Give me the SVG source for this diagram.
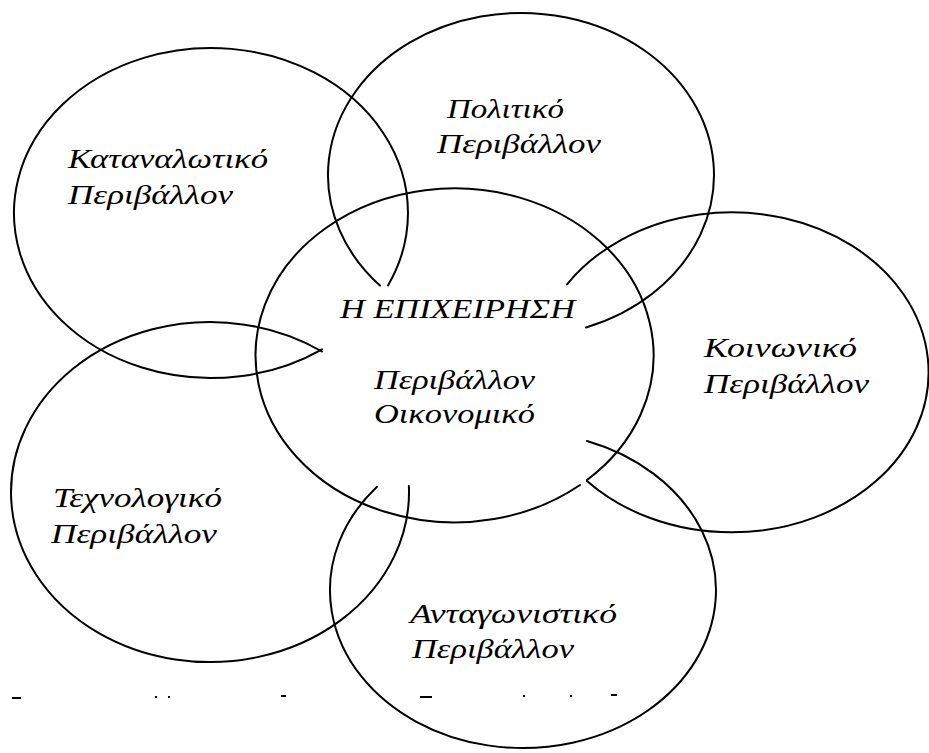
<svg xmlns="http://www.w3.org/2000/svg" width="929" height="753" viewBox="0 0 929 753">
<style>
.c{fill:none;stroke:#000;stroke-width:2;stroke-linecap:round}
.t{font-family:"Liberation Serif","DejaVu Serif",serif;font-style:italic;font-size:27px;fill:#000}
.m{stroke:#000;stroke-width:2}
</style>
<rect width="929" height="753" fill="#fff"/>
<g id="node-katanalotiko">
<path class="c" d="M 322 349.3 A 197 165 0 1 1 388 285.4"/>
<text class="t" x="68" y="168" textLength="200" lengthAdjust="spacingAndGlyphs">Καταναλωτικό</text>
<text class="t" x="68" y="204" textLength="165" lengthAdjust="spacingAndGlyphs">Περιβάλλον</text>
</g>
<g id="node-politiko">
<path class="c" d="M 380 285.6 A 193 162 0 1 1 586 327.5"/>
<text class="t" x="447" y="118" textLength="117" lengthAdjust="spacingAndGlyphs">Πολιτικό</text>
<text class="t" x="437" y="153" textLength="164" lengthAdjust="spacingAndGlyphs">Περιβάλλον</text>
</g>
<g id="node-epixeirisi">
<path class="c" d="M 580 485 A 199 167 0 1 1 587 480"/>
<text class="t" x="340" y="318" textLength="235" lengthAdjust="spacingAndGlyphs">Η ΕΠΙΧΕΙΡΗΣΗ</text>
<text class="t" x="374" y="389" textLength="161" lengthAdjust="spacingAndGlyphs">Περιβάλλον</text>
<text class="t" x="374" y="423" textLength="161" lengthAdjust="spacingAndGlyphs">Οικονομικό</text>
</g>
<g id="node-koinoniko">
<path class="c" d="M 567 284.4 A 197 160 0 1 1 587 481"/>
<text class="t" x="704" y="357" textLength="153" lengthAdjust="spacingAndGlyphs">Κοινωνικό</text>
<text class="t" x="704" y="393" textLength="165" lengthAdjust="spacingAndGlyphs">Περιβάλλον</text>
</g>
<g id="node-technologiko">
<path class="c" d="M 408.9 486 A 199 170 0 1 1 322 351.5"/>
<text class="t" x="53" y="507" textLength="169" lengthAdjust="spacingAndGlyphs">Τεχνολογικό</text>
<text class="t" x="51" y="543" textLength="166" lengthAdjust="spacingAndGlyphs">Περιβάλλον</text>
</g>
<g id="node-antagonistiko">
<path class="c" d="M 587 441 A 193 158 0 1 1 377 486.7"/>
<text class="t" x="410" y="623" textLength="207" lengthAdjust="spacingAndGlyphs">Ανταγωνιστικό</text>
<text class="t" x="412" y="658" textLength="162" lengthAdjust="spacingAndGlyphs">Περιβάλλον</text>
</g>
<g id="connectors"></g>
<g id="marks">
<line class="m" x1="12" y1="698" x2="21" y2="698"/>
<line class="m" x1="155" y1="697" x2="157" y2="697"/>
<line class="m" x1="168" y1="697" x2="170" y2="697"/>
<line class="m" x1="281" y1="696" x2="286" y2="696"/>
<line class="m" x1="420" y1="697" x2="432" y2="697"/>
<line class="m" x1="523" y1="696" x2="525" y2="696"/>
<line class="m" x1="570" y1="696" x2="572" y2="696"/>
<line class="m" x1="611" y1="695" x2="617" y2="695"/>
</g>
</svg>
